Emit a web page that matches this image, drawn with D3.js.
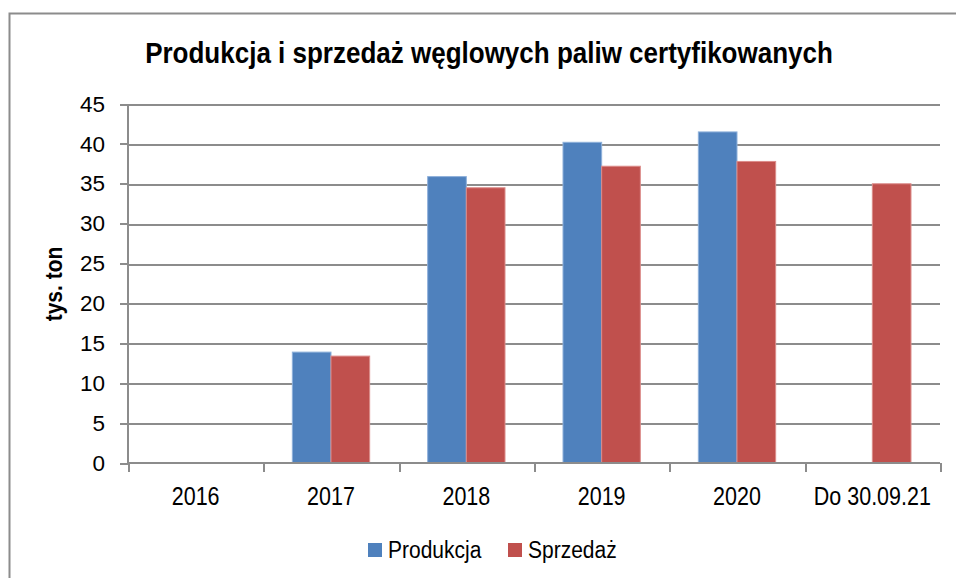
<!DOCTYPE html>
<html lang="pl">
<head>
<meta charset="UTF-8">
<title>Produkcja i sprzedaż</title>
<script src="https://cdn.jsdelivr.net/npm/d3@7"></script>
<style>
  body { margin: 0; background: #fff; }
  svg text { font-family: "Liberation Sans", Arial, sans-serif; fill: #000; }
  .axis path, .axis line { stroke: #8c8c8c; stroke-width: 2px; shape-rendering: crispEdges; }
  .grid line { stroke: #8c8c8c; stroke-width: 2px; shape-rendering: crispEdges; }
</style>
</head>
<body>
<div id="chart"></div>
<script>
const categories = ["2016", "2017", "2018", "2019", "2020", "Do 30.09.21"];
const produkcja = [null, 13.9, 35.9, 40.2, 41.5, null];
const sprzedaz = [null, 13.4, 34.5, 37.2, 37.8, 35.0];
const seriesNames = ["Produkcja", "Sprzedaż"];
const colors = ["#4f81bd", "#c0504d"];
const yTicks = [0, 5, 10, 15, 20, 25, 30, 35, 40, 45];

const width = 956, height = 578;
const margin = { left: 128, right: 16, top: 104, bottom: 115 };

const svg = d3.select("#chart").append("svg")
  .attr("width", width).attr("height", height);

// frame of the chart area (cut off at right and bottom)
svg.append("path")
  .attr("d", `M9.5,${height + 5}V13.5H${width + 5}`)
  .attr("fill", "none").attr("stroke", "#8c8c8c").attr("stroke-width", 2);

svg.append("text")
  .attr("x", 489).attr("y", 63)
  .attr("text-anchor", "middle")
  .attr("font-weight", "bold").attr("font-size", 26)
  .attr("transform", "translate(0,-6) scale(1,1.1)")
  .text("Produkcja i sprzedaż węglowych paliw certyfikowanych");

const x = d3.scaleBand().domain(categories)
  .range([margin.left, width - margin.right]);
const y = d3.scaleLinear().domain([0, 45])
  .range([height - margin.bottom, margin.top]);

const barW = x.bandwidth() / 3.5;
const xs = d3.scaleOrdinal().domain([0, 1]).range([0.75 * barW, 1.75 * barW]);

svg.append("g").attr("class", "grid")
  .selectAll("line").data(yTicks.filter(d => d > 0)).join("line")
  .attr("x1", margin.left).attr("x2", width - margin.right)
  .attr("y1", d => Math.round(y(d)) + 0.5).attr("y2", d => Math.round(y(d)) + 0.5);

const series = [produkcja, sprzedaz];
series.forEach((vals, s) => {
  svg.append("g").selectAll("rect")
    .data(categories.map((c, i) => ({ c, v: vals[i] })).filter(d => d.v != null))
    .join("rect")
    .attr("x", d => x(d.c) + xs(s))
    .attr("y", d => y(d.v))
    .attr("width", barW)
    .attr("height", d => y(0) - y(d.v))
    .attr("fill", colors[s])
    .attr("stroke", s === 0 ? "#8eb0da" : "#dc8c8a")
    .attr("stroke-width", 1);
});

const yAxis = d3.axisLeft(y).tickValues(yTicks).tickSize(8).tickPadding(15);
svg.append("g").attr("class", "axis")
  .attr("transform", `translate(${margin.left},0)`)
  .call(yAxis)
  .call(g => g.select(".domain").attr("d", `M0,${y(45)}V${y(0)}`))
  .call(g => g.selectAll("text").attr("font-size", 22.5).attr("font-family", null));

// x labels are a tall, condensed face: stretch regular text vertically
const xAxis = d3.axisBottom(x).tickSize(0);
const xg = svg.append("g").attr("class", "axis")
  .attr("transform", `translate(0,${y(0)})`)
  .call(xAxis)
  .call(g => g.select(".domain").attr("d", `M${margin.left},0H${width - margin.right}`))
  .call(g => g.selectAll("text")
    .attr("font-size", 21.5).attr("font-family", null)
    .attr("y", 19.4).attr("dy", "0.71em")
    .attr("transform", "scale(1,1.2)"));

// category boundary ticks
xg.selectAll(".bound").data(categories.concat(["end"])).join("line")
  .attr("class", "bound")
  .attr("x1", (d, i) => Math.round(margin.left + i * x.step()) + 0.5)
  .attr("x2", (d, i) => Math.round(margin.left + i * x.step()) + 0.5)
  .attr("y1", 0).attr("y2", 9);

svg.append("text")
  .attr("transform", "translate(62,284) rotate(-90) scale(1,1.1)")
  .attr("text-anchor", "middle")
  .attr("font-weight", "bold").attr("font-size", 21)
  .text("tys. ton");

// legend
const legend = svg.append("g");
const legendX = [368, 508];
seriesNames.forEach((n, i) => {
  legend.append("rect")
    .attr("x", legendX[i]).attr("y", 543).attr("width", 14).attr("height", 14)
    .attr("fill", colors[i]);
  legend.append("text")
    .attr("x", legendX[i] + 20).attr("y", 558)
    .attr("font-size", 21)
    .attr("transform", `translate(0,${-558 * 0.1}) scale(1,1.1)`)
    .text(n);
});
</script>
</body>
</html>
